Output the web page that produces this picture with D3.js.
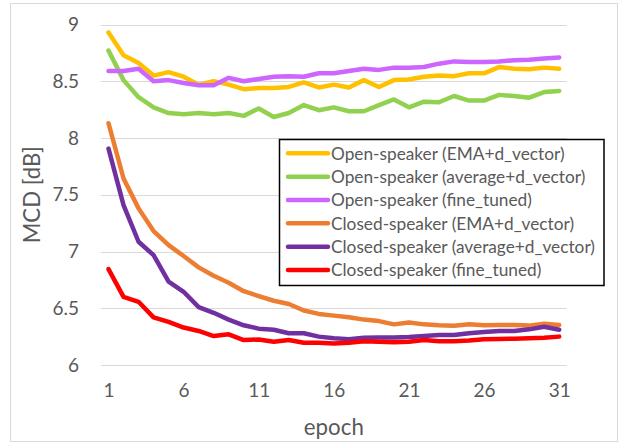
<!DOCTYPE html>
<html>
<head>
<meta charset="utf-8">
<script src="https://cdn.jsdelivr.net/npm/d3@7"></script>
<style>
  html, body { margin: 0; padding: 0; background: #fff; }
  svg { display: block; font-family: Lato, "Open Sans", sans-serif; }
</style>
</head>
<body>
<svg id="chart" width="625" height="445"></svg>
<script>
const epochs = [1,2,3,4,5,6,7,8,9,10,11,12,13,14,15,16,17,18,19,20,21,22,23,24,25,26,27,28,29,30,31];
const xTickLabels = [1, 6, 11, 16, 21, 26, 31];
const yTickLabels = [6, 6.5, 7, 7.5, 8, 8.5, 9];

const openEMA   = [8.93,8.73,8.66,8.55,8.58,8.54,8.47,8.50,8.47,8.43,8.44,8.44,8.45,8.49,8.445,8.47,8.445,8.51,8.45,8.51,8.515,8.54,8.55,8.545,8.57,8.57,8.625,8.61,8.605,8.62,8.61];
const openAvg   = [8.77,8.51,8.36,8.27,8.22,8.21,8.22,8.21,8.22,8.195,8.26,8.185,8.22,8.29,8.245,8.27,8.236,8.236,8.29,8.34,8.27,8.32,8.315,8.37,8.33,8.33,8.38,8.37,8.355,8.405,8.415];
const openFine  = [8.59,8.59,8.61,8.50,8.51,8.485,8.465,8.465,8.53,8.50,8.52,8.54,8.545,8.54,8.57,8.57,8.59,8.61,8.60,8.62,8.62,8.625,8.655,8.675,8.67,8.67,8.675,8.685,8.69,8.70,8.71];
const closedEMA = [8.13,7.643,7.38,7.18,7.056,6.96,6.86,6.786,6.725,6.65,6.607,6.566,6.537,6.48,6.45,6.435,6.42,6.40,6.387,6.358,6.375,6.358,6.35,6.345,6.36,6.35,6.352,6.352,6.347,6.364,6.352];
const closedAvg = [7.907,7.408,7.086,6.968,6.735,6.645,6.51,6.46,6.40,6.35,6.32,6.31,6.28,6.28,6.25,6.235,6.228,6.24,6.243,6.243,6.246,6.255,6.264,6.264,6.28,6.29,6.30,6.30,6.314,6.337,6.31];
const closedFine= [6.845,6.60,6.557,6.42,6.38,6.33,6.30,6.255,6.27,6.22,6.225,6.205,6.22,6.196,6.196,6.19,6.196,6.21,6.205,6.20,6.205,6.22,6.21,6.21,6.215,6.226,6.23,6.232,6.235,6.24,6.25];

const seriesNames = [
  "Open-speaker (EMA+d_vector)",
  "Open-speaker (average+d_vector)",
  "Open-speaker (fine_tuned)",
  "Closed-speaker (EMA+d_vector)",
  "Closed-speaker (average+d_vector)",
  "Closed-speaker (fine_tuned)"
];
const seriesColors = ["#FFC000", "#92D050", "#CC66FF", "#ED7D31", "#7030A0", "#FF0000"];
const seriesValues = [openEMA, openAvg, openFine, closedEMA, closedAvg, closedFine];

const series = seriesNames.map((name, i) => ({
  name, color: seriesColors[i],
  values: epochs.map((e, j) => ({ epoch: e, value: seriesValues[i][j] }))
}));

const svg = d3.select("#chart");
const textColor = "#595959";

// outer chart border
svg.append("rect")
  .attr("x", 10.5).attr("y", 3.5).attr("width", 607).attr("height", 438)
  .attr("fill", "#fff").attr("stroke", "#d9d9d9").attr("stroke-width", 1);

const plot = { left: 101, right: 566.7, top: 24.5, bottom: 365 };

const x = d3.scalePoint().domain(epochs).range([plot.left, plot.right]).padding(0.5);
const y = d3.scaleLinear().domain([6, 9]).range([plot.bottom, plot.top]);

// gridlines
svg.append("g").selectAll("line").data(yTickLabels).join("line")
  .attr("x1", plot.left).attr("x2", plot.right)
  .attr("y1", d => Math.round(y(d)) + 0.5).attr("y2", d => Math.round(y(d)) + 0.5)
  .attr("stroke", "#d9d9d9").attr("stroke-width", 1);

// y axis
const yAxis = svg.append("g")
  .attr("transform", `translate(${plot.left},0)`)
  .call(d3.axisLeft(y).tickValues(yTickLabels).tickSize(0).tickPadding(22).tickFormat(d3.format("")));
yAxis.select(".domain").remove();
yAxis.selectAll("text").attr("fill", textColor).style("font-size", "19px").style("font-family", "Lato, sans-serif");

// x axis
const xAxis = svg.append("g")
  .attr("transform", `translate(0,${plot.bottom})`)
  .call(d3.axisBottom(x).tickValues(xTickLabels).tickSize(0).tickPadding(19));
xAxis.select(".domain").remove();
xAxis.selectAll("text").attr("fill", textColor).style("font-size", "19px").style("font-family", "Lato, sans-serif");

// axis titles
function fitText(sel, target) {
  const node = sel.node();
  const fs = parseFloat(sel.style("font-size"));
  const w = node.getComputedTextLength();
  if (w > 0) sel.style("font-size", (fs * target / w).toFixed(2) + "px");
}

const yTitle = svg.append("text")
  .attr("transform", `translate(40,${(plot.top + plot.bottom) / 2}) rotate(-90)`)
  .attr("text-anchor", "middle")
  .attr("fill", textColor).style("font-size", "20px")
  .text("MCD [dB]");
fitText(yTitle, 97);

const xTitle = svg.append("text")
  .attr("x", (plot.left + plot.right) / 2).attr("y", 435)
  .attr("text-anchor", "middle")
  .attr("fill", textColor).style("font-size", "20px")
  .text("epoch");
fitText(xTitle, 60);

// lines
const line = d3.line().x(d => x(d.epoch)).y(d => y(d.value));
svg.append("g").selectAll("path").data(series).join("path")
  .attr("d", d => line(d.values))
  .attr("fill", "none")
  .attr("stroke", d => d.color)
  .attr("stroke-width", 4.5)
  .attr("stroke-linejoin", "round")
  .attr("stroke-linecap", "round");

// legend
const legend = svg.append("g");
legend.append("rect")
  .attr("x", 279.5).attr("y", 139.5).attr("width", 324.5).attr("height", 146)
  .attr("fill", "#fff").attr("stroke", "#000").attr("stroke-width", 1.5);

const rowY = d3.scaleLinear().domain([0, 5]).range([153.3, 270]);
const rows = legend.selectAll("g.row").data(series).join("g").attr("class", "row")
  .attr("transform", (d, i) => `translate(0,${rowY(i)})`);
rows.append("line")
  .attr("x1", 288).attr("x2", 328)
  .attr("stroke", d => d.color).attr("stroke-width", 4.5).attr("stroke-linecap", "round");
const labels = rows.append("text")
  .attr("x", 331).attr("dy", "0.36em")
  .attr("fill", textColor).style("font-size", "16px")
  .text(d => d.name);
// scale legend font so the longest label matches the reference width
const longest = labels.filter((d, i) => i === 4);
const w = longest.node().getComputedTextLength();
const fs = 16 * 264 / w;
labels.style("font-size", fs.toFixed(2) + "px");
</script>
</body>
</html>
